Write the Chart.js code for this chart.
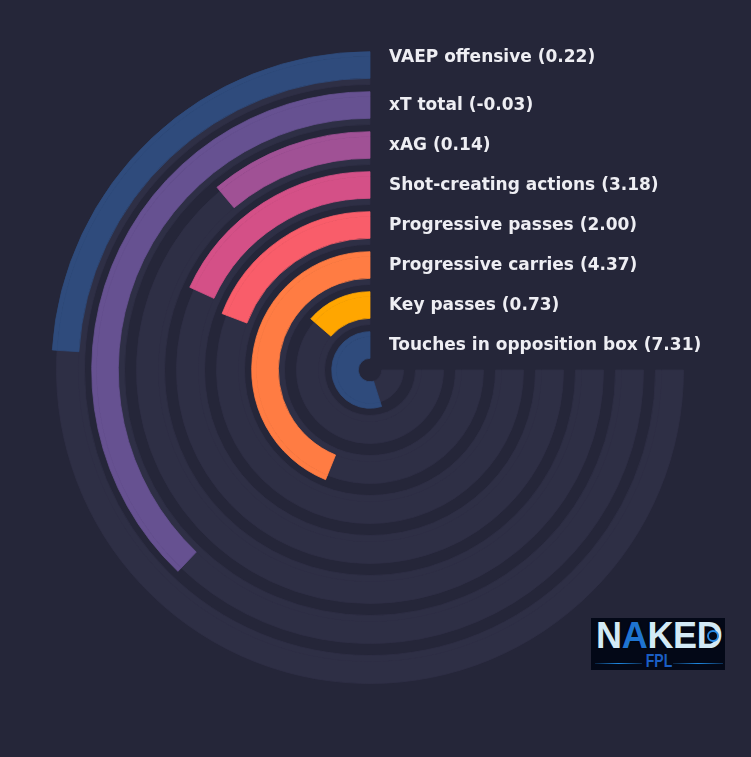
<!DOCTYPE html>
<html>
<head>
<meta charset="utf-8">
<script src="https://cdn.jsdelivr.net/npm/chart.js@4.4.1/dist/chart.umd.min.js"></script>
<style>
  html, body { margin: 0; padding: 0; background: #252639; }
  #wrap { position: relative; width: 751px; height: 757px; }
  #logo {
    position: absolute; left: 591px; top: 618px; width: 134px; height: 52px;
    background: #030817; overflow: hidden;
  }
  #logo .word {
    position: absolute; left: 5px; top: -3px; width: 126px;
    font: bold 36px "Liberation Sans", sans-serif; color: #d3eaf6;
    letter-spacing: -0.3px; text-shadow: 0 0 2px #000;
  }
  #logo .word .fin { color: #1f74d0; }
  #logo .ring {
    position: absolute; left: 116px; top: 12px; width: 8px; height: 8px;
    border: 2px solid #2a8be6; border-radius: 50%; background: #030817;
  }
  #logo .fpl {
    position: absolute; left: 0; top: 33px; width: 134px; height: 20px;
  }
  #logo .fpl span {
    position: absolute; left: 48px; top: 0; width: 40px; text-align: center;
    font: bold 18px "Liberation Sans", sans-serif; color: #1b5ec4;
    transform: scaleX(0.78); transform-origin: center;
  }
  #logo .fpl i {
    position: absolute; top: 12px; height: 1px;
    background: linear-gradient(90deg, rgba(30,135,225,0.2), #1e87e1, rgba(30,135,225,0.3));
  }
</style>
</head>
<body>
<div id="wrap">
  <canvas id="radialChart" width="751" height="757"></canvas>
  <div id="logo">
    <div class="word">N<span class="fin">A</span>KED</div>
    <div class="ring"></div>
    <div class="fpl">
      <i style="left:4px;width:47px"></i>
      <span>FPL</span>
      <i style="left:82px;width:50px"></i>
    </div>
  </div>
</div>
<script>
// metrics, outermost ring first
const metrics = [
  'VAEP offensive',
  'xT total',
  'xAG',
  'Shot-creating actions',
  'Progressive passes',
  'Progressive carries',
  'Key passes',
  'Touches in opposition box'
];
const per90 = ['0.22', '-0.03', '0.14', '3.18', '2.00', '4.37', '0.73', '7.31'];
// percentile rank (share of the 270° track filled)
const percentiles = [32, 50.5, 14.8, 24.2, 25.6, 58.5, 18.2, 73.2];
const barColors = ['#2F4B7C', '#665191', '#A05195', '#D45087', '#F95D6A', '#FF7C43', '#FFA600', '#2F4B7C'];

const TRACK = '#2E2F45';

// radial band widths (px) of each ring: bar lip, bar body over track, track sliver, gap
const LIP = 4.8, BODY = 21.8, SLIVER = 6.2, GAP = 7.2;
const OUTER_R = 318.3;
const INNER_R = 11.7;

const datasets = [];
const lipIndex = [];
metrics.forEach((m, i) => {
  const p = percentiles[i];
  const last = i === metrics.length - 1;
  lipIndex.push(datasets.length);
  datasets.push({
    label: m,
    data: [100 - p, p],
    backgroundColor: ['rgba(0,0,0,0)', barColors[i]],
    borderColor: ['rgba(0,0,0,0)', barColors[i]],
    weight: LIP
  });
  datasets.push({
    label: m,
    data: [100 - p, p],
    backgroundColor: [TRACK, barColors[i]],
    borderColor: [TRACK, barColors[i]],
    weight: BODY
  });
  if (!last) {
    datasets.push({ label: m, data: [100], backgroundColor: [TRACK], borderColor: [TRACK], weight: SLIVER });
    datasets.push({ label: '', data: [100], backgroundColor: ['rgba(0,0,0,0)'], borderColor: ['rgba(0,0,0,0)'], weight: GAP });
  }
});

const ringLabels = {
  id: 'ringLabels',
  afterDatasetsDraw(chart) {
    const ctx = chart.ctx;
    ctx.save();
    ctx.font = 'bold 17px "DejaVu Sans"';
    ctx.fillStyle = '#EEEEF3';
    ctx.textBaseline = 'middle';
    ctx.textAlign = 'left';
    metrics.forEach((name, i) => {
      const lip = chart.getDatasetMeta(lipIndex[i]).data[0];
      const body = chart.getDatasetMeta(lipIndex[i] + 1).data[0];
      const mid = (lip.outerRadius + body.innerRadius) / 2;
      // top label nudged up, as in the original
      const y = lip.y - mid - (i === 0 ? 8 : 0) + 1;
      ctx.fillText(name + ' (' + per90[i] + ')', lip.x + 19, y);
    });
    ctx.restore();
  }
};

new Chart(document.getElementById('radialChart'), {
  type: 'doughnut',
  data: { labels: ['rest', 'value'], datasets: datasets },
  options: {
    responsive: false,
    animation: false,
    rotation: 90,
    circumference: 270,
    radius: OUTER_R,
    cutout: (INNER_R / OUTER_R * 100) + '%',
    layout: { padding: { left: 0, top: 0, right: 11, bottom: 17 } },
    elements: { arc: { borderWidth: 0.8, hoverOffset: 0, offset: 0 } },
    plugins: { legend: { display: false }, tooltip: { enabled: false } },
    events: []
  },
  plugins: [ringLabels]
});
</script>
</body>
</html>
